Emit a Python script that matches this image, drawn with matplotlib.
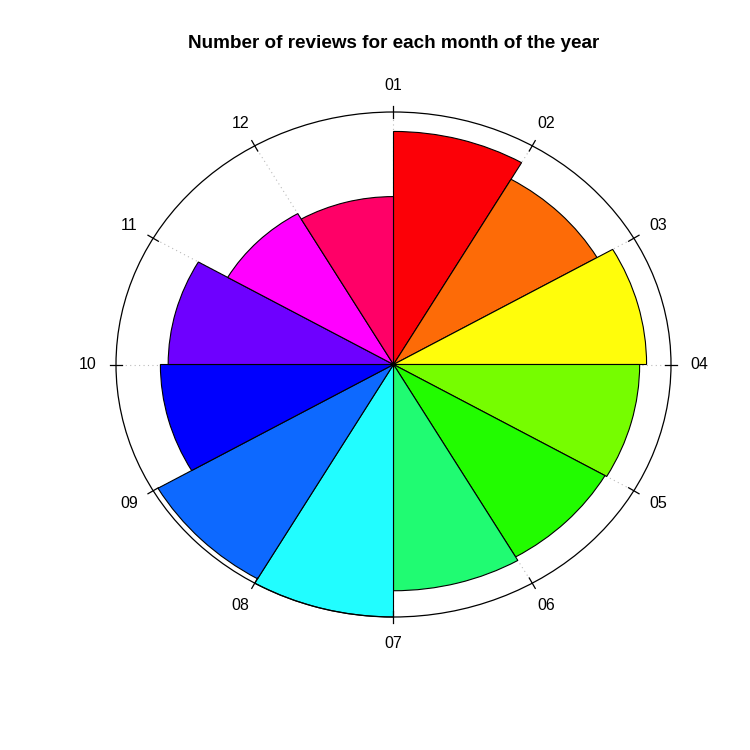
import numpy as np
import matplotlib
matplotlib.use("Agg")
import matplotlib.pyplot as plt
from matplotlib.patches import Wedge, Ellipse

plt.rcParams["font.family"] = ["Liberation Sans", "DejaVu Sans"]

# data: review counts per month (relative to the largest)
months = ["01", "02", "03", "04", "05", "06", "07", "08", "09", "10", "11", "12"]
reviews = [923, 847, 912, 887, 880, 896, 1000, 980, 840, 812, 690, 665]
colors = ["#FC0007", "#FD6B07", "#FFFD0B", "#76FD00", "#22FC00", "#20FB72",
          "#21FDFF", "#0D69FF", "#0000FE", "#6E00FF", "#FF00FF", "#FF0067"]
title = "Number of reviews for each month of the year"

# figure / axes (plot squashed a bit vertically like the R device)
fig = plt.figure(figsize=(7.5, 7.5), dpi=100)
ax = fig.add_axes([0, 0, 1, 1])
hr, vr = 277.5, 252.5          # pixel size of one radius unit
cx, cy = 393.5, 750 - 364.5    # centre in pixels (from bottom-left)
ax.set_xlim(-cx / hr, (750 - cx) / hr)
ax.set_ylim(-cy / vr, (750 - cy) / vr)
ax.axis("off")

rmax = max(reviews)
n = len(months)
step = 360 / n
angles = 90 - step * np.arange(n)   # clockwise from the top

# dotted radial grid lines
for a in angles:
    t = np.deg2rad(a)
    ax.plot([0, np.cos(t)], [0, np.sin(t)], ls=(0, (1, 3)), color="#BBBBBB",
            lw=0.8, zorder=1)

# sectors
for i, (v, c) in enumerate(zip(reviews, colors)):
    w = Wedge((0, 0), v / rmax, angles[i] - step, angles[i],
              facecolor=c, edgecolor="black", lw=0.8, zorder=2)
    ax.add_patch(w)

# outer circle
ax.add_patch(Ellipse((0, 0), 2, 2, fill=False, edgecolor="black", lw=0.9,
                     zorder=3))

# ticks and labels
for a, lab in zip(angles, months):
    t = np.deg2rad(a)
    ax.plot([np.cos(t) * (1 - 6 / hr), np.cos(t) * (1 + 6 / hr)],
            [np.sin(t) * (1 - 6 / vr), np.sin(t) * (1 + 6 / vr)],
            color="black", lw=0.9, zorder=3)
    ax.text(np.cos(t) * (1 + 28 / hr), np.sin(t) * (1 + 26 / vr), lab,
            ha="center", va="center", fontsize=11.5)

fig.text(394 / 750, 1 - 43 / 750, title, ha="center", va="center",
         fontsize=13.6, fontweight="bold")

fig.savefig("out.png", dpi=100)
